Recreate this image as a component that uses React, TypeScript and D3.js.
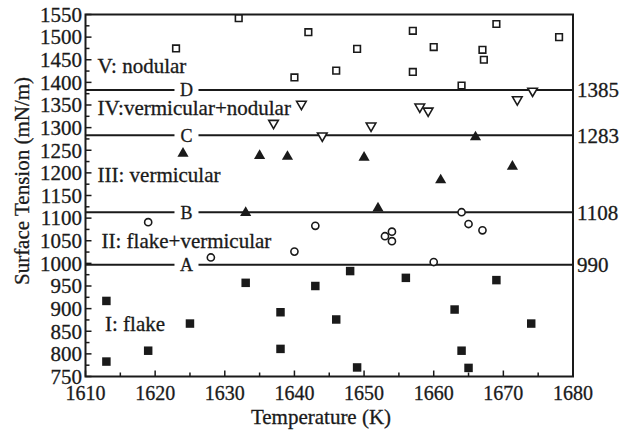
import React, { useEffect, useRef } from "react";
import * as d3 from "d3";

// flake (filled squares)
const flakeT = [1613, 1613, 1619, 1625, 1633, 1638, 1638, 1643, 1646, 1648, 1649, 1656, 1663, 1664, 1665, 1669, 1674];
const flakeS = [917, 783, 807, 867, 957, 892, 811, 950, 876, 983, 770, 968, 898, 807, 769, 963, 867];
// flake + vermicular (open circles)
const fvT = [1619, 1628, 1640, 1643, 1653, 1654, 1654, 1660, 1664, 1665, 1667];
const fvS = [1091, 1013, 1026, 1083, 1060, 1070, 1049, 1003, 1113, 1087, 1073];
// vermicular (filled triangles)
const vermT = [1624, 1633, 1635, 1639, 1650, 1652, 1661, 1666, 1671.3];
const vermS = [1243, 1112, 1238, 1236, 1234, 1122, 1184, 1279, 1214];
// vermicular + nodular (open down triangles)
const vnT = [1637, 1641, 1644, 1651, 1658, 1659.2, 1672, 1674.2];
const vnS = [1310, 1352, 1282, 1304, 1346, 1337, 1362, 1381];
// nodular (open squares)
const nodT = [1623, 1632, 1640, 1642, 1646, 1649, 1657, 1657, 1660, 1664, 1667, 1667.2, 1669, 1678];
const nodS = [1475, 1542, 1411, 1511, 1426, 1474, 1514, 1423, 1478, 1393, 1472, 1450, 1529, 1500];

const boundaryNames = ["D", "C", "B", "A"];
const boundaryValues = [1383, 1283, 1113, 997];
const boundaryLabels = ["1385", "1283", "1108", "990"];

const regionNames = ["V: nodular", "IV:vermicular+nodular", "III: vermicular", "II: flake+vermicular", "I: flake"];
const regionY = [1437, 1344, 1195, 1051, 867];

export default function App() {
  const svgRef = useRef<SVGSVGElement>(null);

  useEffect(() => {
    document.body.style.margin = "0";
    const w = 626;
    const h = 431;
    const m = { left: 85.5, right: 573, top: 14.5, bottom: 376.5 };
    const font = "'Liberation Serif', 'Times New Roman', serif";
    const ink = "#1a1a1a";

    const svg = d3.select(svgRef.current).attr("width", w).attr("height", h);
    svg.selectAll("*").remove();

    const x = d3.scaleLinear().domain([1610, 1680]).range([m.left, m.right]);
    const y = d3.scaleLinear().domain([750, 1550]).range([m.bottom, m.top]);

    const g = svg.append("g");
    const label = (tx: number, ty: number, t: string | number, size: number) =>
      g.append("text").attr("x", tx).attr("y", ty)
        .attr("font-family", font).attr("font-size", size)
        .attr("fill", ink).attr("stroke", ink).attr("stroke-width", 0.3)
        .text(t);

    // ticks (inside)
    d3.range(750, 1551, 25).forEach((v) => {
      const major = v % 50 === 0;
      g.append("line")
        .attr("x1", m.left).attr("x2", m.left + (major ? 6 : 4))
        .attr("y1", y(v)).attr("y2", y(v))
        .attr("stroke", ink).attr("stroke-width", 1.5);
      if (major) label(82, y(v), v, 21).attr("dy", "0.35em").attr("text-anchor", "end");
    });
    d3.range(1610, 1681, 5).forEach((v) => {
      const major = v % 10 === 0;
      g.append("line")
        .attr("x1", x(v)).attr("x2", x(v))
        .attr("y1", m.bottom).attr("y2", m.bottom - (major ? 6 : 4))
        .attr("stroke", ink).attr("stroke-width", 1.5);
      if (major) label(x(v), 399.5, v, 20).attr("text-anchor", "middle");
    });

    // boundary lines
    boundaryValues.forEach((v, i) => {
      g.append("line").attr("x1", m.left).attr("x2", m.right)
        .attr("y1", y(v)).attr("y2", y(v)).attr("stroke", ink).attr("stroke-width", 2);
      g.append("rect").attr("x", x(1624.5) - 12).attr("y", y(v) - 8).attr("width", 24).attr("height", 16)
        .attr("fill", "#fff");
      label(x(1624.5), y(v), boundaryNames[i], 18).attr("dy", "0.35em").attr("text-anchor", "middle");
      label(577, y(v), boundaryLabels[i], 21).attr("dy", "0.35em");
    });

    // region labels
    regionNames.forEach((t, i) => {
      label(i === 4 ? 105 : i === 3 ? 101.5 : 97.5, y(regionY[i]), t, 21).attr("dy", "0.35em");
    });

    const sym = (type: d3.SymbolType, size: number) => d3.symbol().type(type).size(size)();
    const draw = (ts: number[], ss: number[], type: d3.SymbolType, size: number, filled: boolean, rot = 0) => {
      g.append("g").selectAll("path").data(ts).join("path")
        .attr("d", sym(type, size))
        .attr("transform", (d, i) => `translate(${x(d)},${y(ss[i])}) rotate(${rot})`)
        .attr("fill", filled ? ink : "#fff")
        .attr("stroke", ink)
        .attr("stroke-width", filled ? 0 : 1.6);
    };
    draw(flakeT, flakeS, d3.symbolSquare, 72, true);
    draw(fvT, fvS, d3.symbolCircle, 40, false);
    draw(vermT, vermS, d3.symbolTriangle, 54, true);
    draw(vnT, vnS, d3.symbolTriangle, 40, false, 180);
    draw(nodT, nodS, d3.symbolSquare, 44, false);

    // frame
    g.append("rect").attr("x", m.left).attr("y", m.top)
      .attr("width", m.right - m.left).attr("height", m.bottom - m.top)
      .attr("fill", "none").attr("stroke", ink).attr("stroke-width", 2);

    // axis titles
    label(321, 424, "Temperature (K)", 21).attr("text-anchor", "middle");
    label(0, 0, "Surface Tension (mN/m)", 21)
      .attr("transform", "translate(29,181) rotate(-90)").attr("text-anchor", "middle");
  }, []);

  return (
    <div>
      <svg ref={svgRef}></svg>
    </div>
  );
}
